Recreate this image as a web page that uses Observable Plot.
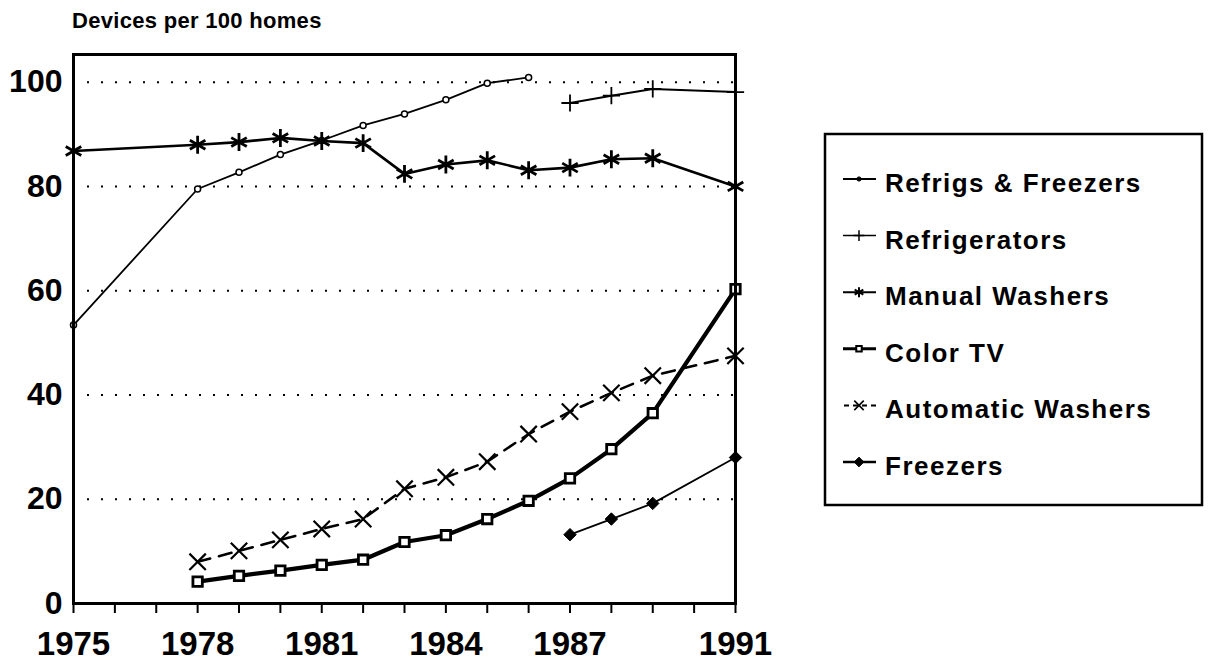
<!DOCTYPE html>
<html><head><meta charset="utf-8">
<script src="https://cdn.jsdelivr.net/npm/d3@7"></script>
<script src="https://cdn.jsdelivr.net/npm/@observablehq/plot@0.6"></script>
<style>
body{margin:0;background:#fff;}
#wrap{position:relative;width:1210px;height:664px;font-family:"Liberation Sans",Arial,sans-serif;}
#chart{position:absolute;left:0;top:0;}
#overlay{position:absolute;left:0;top:0;pointer-events:none;}
</style></head><body>
<div id="wrap"><div id="chart"></div><svg id="overlay" width="1210" height="664"></svg></div>
<script>
// ---- data ----
const title = "Devices per 100 homes";
const seriesNames = ["Refrigs & Freezers", "Refrigerators", "Manual Washers", "Color TV", "Automatic Washers", "Freezers"];

const yearsRefrigsFreezers = [1975, 1978, 1979, 1980, 1981, 1982, 1983, 1984, 1985, 1986];
const refrigsFreezers      = [53.4, 79.5, 82.7, 86.1, 88.8, 91.7, 93.9, 96.6, 99.8, 100.9];

const yearsRefrigerators = [1987, 1988, 1989, 1991];
const refrigerators      = [96.0, 97.4, 98.7, 98.1];

const yearsManualWashers = [1975, 1978, 1979, 1980, 1981, 1982, 1983, 1984, 1985, 1986, 1987, 1988, 1989, 1991];
const manualWashers      = [86.8, 88.0, 88.5, 89.3, 88.7, 88.3, 82.4, 84.2, 85.0, 83.1, 83.6, 85.2, 85.4, 80.0];

const yearsColorTV = [1978, 1979, 1980, 1981, 1982, 1983, 1984, 1985, 1986, 1987, 1988, 1989, 1991];
const colorTV      = [4.2, 5.3, 6.3, 7.4, 8.4, 11.8, 13.1, 16.2, 19.7, 24.0, 29.6, 36.5, 60.3];

const yearsAutoWashers = [1978, 1979, 1980, 1981, 1982, 1983, 1984, 1985, 1986, 1987, 1988, 1989, 1991];
const autoWashers      = [8.0, 10.1, 12.2, 14.3, 16.2, 22.0, 24.2, 27.2, 32.5, 36.8, 40.4, 43.7, 47.5];

const yearsFreezers = [1987, 1988, 1989, 1991];
const freezers      = [13.2, 16.2, 19.2, 28.0];

const xTickYears  = d3.range(1975, 1992);
const xTickLabels = [1975, 1978, 1981, 1984, 1987, 1991];
const yTickLabels = [0, 20, 40, 60, 80, 100];
const gridValues  = [20, 40, 60, 80, 100];

// ---- build tables ----
const toRows = (years, vals) => years.map((x, i) => ({x, y: vals[i]}));
const rf = toRows(yearsRefrigsFreezers, refrigsFreezers);
const rr = toRows(yearsRefrigerators, refrigerators);
const mw = toRows(yearsManualWashers, manualWashers);
const tv = toRows(yearsColorTV, colorTV);
const aw = toRows(yearsAutoWashers, autoWashers);
const fz = toRows(yearsFreezers, freezers);

const FONT = "Liberation Sans, Arial, Helvetica, sans-serif";

const plot = Plot.plot({
  width: 760, height: 664,
  marginLeft: 73, marginRight: 25, marginTop: 54, marginBottom: 61,
  x: {domain: [1975, 1991]},
  y: {domain: [0, 105.3]},
  style: {fontFamily: FONT, background: "white", color: "black", overflow: "visible"},
  marks: [
    Plot.ruleY(gridValues, {stroke: "black", strokeWidth: 2, strokeDasharray: "2,12"}),
    Plot.axisY({ticks: yTickLabels, tickSize: 0, tickPadding: 11, fontSize: 32, fontWeight: "bold", label: null, tickFormat: d => String(d)}),
    Plot.axisX({ticks: xTickYears, tickSize: 10, strokeWidth: 2, tickFormat: () => "", label: null}),
    Plot.axisX({ticks: xTickLabels, tickSize: 0, tickPadding: 28, fontSize: 33, fontWeight: "bold", label: null, tickFormat: d => String(d)}),

    Plot.line(rf, {x: "x", y: "y", stroke: "black", strokeWidth: 1.8}),
    Plot.dot(rf, {x: "x", y: "y", r: 3, fill: "white", stroke: "black", strokeWidth: 1.5}),

    Plot.line(rr, {x: "x", y: "y", stroke: "black", strokeWidth: 2}),
    Plot.dot(rr, {x: "x", y: "y", symbol: "plus", r: 5.6, stroke: "black", strokeWidth: 1.8}),

    Plot.line(mw, {x: "x", y: "y", stroke: "black", strokeWidth: 2.6}),
    Plot.dot(mw, {x: "x", y: "y", symbol: "asterisk", r: 8.5, stroke: "black", strokeWidth: 2.8}),

    Plot.line(aw, {x: "x", y: "y", stroke: "black", strokeWidth: 2.6, strokeDasharray: "13,9"}),
    Plot.dot(aw, {x: "x", y: "y", symbol: "times", r: 7.5, stroke: "black", strokeWidth: 2.2}),

    Plot.line(tv, {x: "x", y: "y", stroke: "black", strokeWidth: 4.2}),
    Plot.dot(tv, {x: "x", y: "y", symbol: "square", r: 5.3, fill: "white", stroke: "black", strokeWidth: 2.8}),

    Plot.line(fz, {x: "x", y: "y", stroke: "black", strokeWidth: 1.8}),
    Plot.dot(fz, {x: "x", y: "y", symbol: "diamond2", r: 5.6, fill: "black", stroke: "black", strokeWidth: 1}),

    Plot.frame({stroke: "black", strokeWidth: 3})
  ]
});
document.getElementById("chart").appendChild(plot);

// ---- title & legend (overlay) ----
const svg = d3.select("#overlay");
svg.append("text").attr("x", 72).attr("y", 28)
  .attr("font-family", FONT).attr("font-size", 22).attr("font-weight", "bold")
  .attr("letter-spacing", "0.3px").text(title);

const lg = svg.append("g");
lg.append("rect").attr("x", 825).attr("y", 134).attr("width", 377).attr("height", 371)
  .attr("fill", "none").attr("stroke", "black").attr("stroke-width", 2.5);

const legendSpec = [
  {sym: d3.symbolCircle, size: 14, fill: "black", sw: 1, dash: null, lw: 2},
  {sym: d3.symbolPlus, size: 40, fill: "none", sw: 1.5, dash: null, lw: 1.5},
  {sym: d3.symbolAsterisk, size: 70, fill: "none", sw: 2, dash: null, lw: 2},
  {sym: d3.symbolSquare, size: 30, fill: "white", sw: 2, dash: null, lw: 3},
  {sym: d3.symbolTimes, size: 60, fill: "none", sw: 1.6, dash: "5,4", lw: 2},
  {sym: d3.symbolDiamond2, size: 60, fill: "black", sw: 1, dash: null, lw: 2.5}
];
seriesNames.forEach((name, i) => {
  const base = 192 + i * 56.6;
  const cy = base - 13;
  const s = legendSpec[i];
  const l = lg.append("line").attr("x1", 843).attr("x2", 876).attr("y1", cy).attr("y2", cy)
    .attr("stroke", "black").attr("stroke-width", s.lw);
  if (s.dash) l.attr("stroke-dasharray", s.dash).attr("stroke-dashoffset", -1);
  lg.append("path").attr("d", d3.symbol(s.sym, s.size)()).attr("transform", `translate(859,${cy})`)
    .attr("fill", s.fill).attr("stroke", "black").attr("stroke-width", s.sw);
  lg.append("text").attr("x", 885).attr("y", base)
    .attr("font-family", FONT).attr("font-size", 26).attr("font-weight", "bold")
    .attr("letter-spacing", "1.5px").text(name);
});
</script>
</body></html>
